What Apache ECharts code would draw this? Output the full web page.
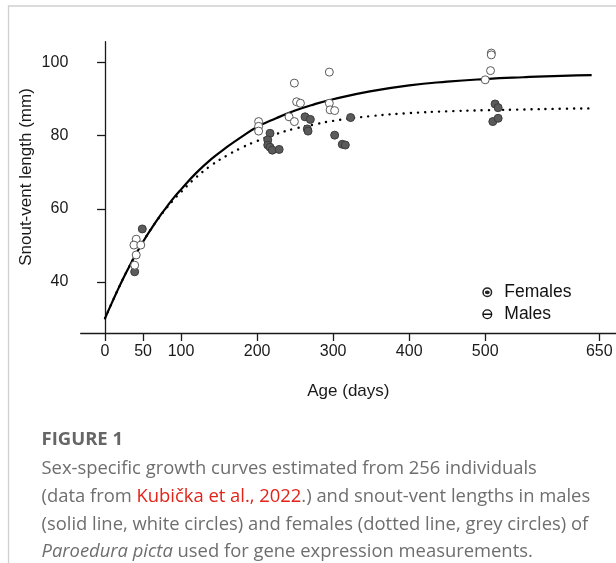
<!DOCTYPE html>
<html>
<head>
<meta charset="utf-8">
<script src="https://cdn.jsdelivr.net/npm/echarts@6/dist/echarts.min.js"></script>
<style>
html,body{margin:0;padding:0;background:#fff;}
#chart{width:616px;height:563px;}
</style>
</head>
<body>
<div id="chart"></div>
<script>
// ---- data ----
var xTicks = [0, 50, 100, 200, 300, 400, 500, 650];
var yTicks = [40, 60, 80, 100];

// growth curves (estimated from the drawn curves)
var curveDays   = [0, 10, 20, 30, 40, 50, 60, 70, 80, 90, 100, 120, 140, 160, 180, 200, 225, 250, 275, 300, 350, 400, 450, 500, 550, 600, 640];
var maleCurve   = [30.1, 34.8, 39.3, 43.5, 47.4, 51.0, 54.3, 57.4, 60.2, 62.9, 65.3, 69.8, 73.6, 76.8, 79.7, 82.3, 84.7, 86.8, 88.5, 89.9, 92.1, 93.7, 94.7, 95.4, 95.9, 96.3, 96.5];
var femaleCurve = [30.1, 34.8, 39.3, 43.5, 47.4, 51.0, 54.3, 57.3, 60.0, 62.4, 64.6, 68.6, 71.9, 74.5, 76.7, 78.5, 80.4, 81.9, 83.0, 84.0, 85.3, 86.1, 86.6, 86.9, 87.1, 87.3, 87.4];

// individuals (open = males, grey = females)
var maleDays = [41, 38, 47, 41, 39, 202, 202, 202, 242, 249, 249, 252, 257, 295, 295, 296, 302, 508, 508, 507, 500];
var maleSVL  = [51.7, 50.1, 50.1, 47.4, 44.6, 83.8, 82.5, 81.2, 85.1, 83.8, 94.3, 89.2, 88.8, 97.3, 88.8, 87.0, 86.8, 102.5, 102.0, 97.7, 95.2];
var femaleDays = [49, 39, 217, 214, 214, 217, 220, 229, 263, 270, 266, 267, 302, 312, 316, 323, 513, 517, 510, 517];
var femaleSVL  = [54.5, 42.8, 80.6, 78.8, 77.4, 76.8, 76.0, 76.2, 85.1, 84.4, 81.8, 81.2, 80.1, 77.6, 77.4, 84.9, 88.6, 87.6, 83.8, 84.7];

function zip(a, b) { return a.map(function (v, i) { return [v, b[i]]; }); }

var AX = '#1a1a1a';
var SANS = '"Liberation Sans", Arial, sans-serif';
var CAP = '"Open Sans", "Noto Sans", sans-serif';
var CAPC = '#6e6e6e';
var CAPFS = 18.4;

var maleIcon = 'path://M0,-10 A10,10 0 1,1 0,10 A10,10 0 1,1 0,-10 Z M0,-7.4 A7.4,7.4 0 1,0 0,7.4 A7.4,7.4 0 1,0 0,-7.4 Z M-10,-1.6 L10,-1.6 L10,1.6 L-10,1.6 Z';
var femaleIcon = 'path://M0,-10 A10,10 0 1,1 0,10 A10,10 0 1,1 0,-10 Z M0,-7 A7,7 0 1,0 0,7 A7,7 0 1,0 0,-7 Z M-5,0 A5,3.8 0 1,1 5,0 A5,3.8 0 1,1 -5,0 Z';

var chart = echarts.init(document.getElementById('chart'), null, {renderer: 'canvas'});
chart.setOption({
  animation: false,
  backgroundColor: '#fff',
  grid: {left: 80.7, right: 0, top: 41.7, bottom: 230, containLabel: false},
  xAxis: {
    type: 'value', min: -32, max: 672,
    name: 'Age (days)', nameLocation: 'middle', nameGap: 50,
    nameTextStyle: {fontFamily: SANS, fontSize: 17, color: AX},
    axisLine: {show: true, lineStyle: {color: AX, width: 1.3}},
    axisTick: {show: true, length: 8, customValues: xTicks, lineStyle: {color: AX, width: 1.3}},
    axisLabel: {customValues: xTicks, margin: 11, fontFamily: SANS, fontSize: 16, color: AX},
    splitLine: {show: false}
  },
  yAxis: {
    type: 'value', min: 26.1, max: 105.6,
    axisLine: {show: true, lineStyle: {color: AX, width: 1.3}},
    axisTick: {show: true, length: 8, customValues: yTicks, lineStyle: {color: AX, width: 1.3}},
    axisLabel: {customValues: yTicks, margin: 12.4, fontFamily: SANS, fontSize: 16, color: AX},
    splitLine: {show: false}
  },
  legend: {
    orient: 'vertical', left: 477.3, top: 278.3,
    itemWidth: 10, itemHeight: 10, itemGap: 4,
    textStyle: {fontFamily: SANS, fontSize: 17.5, color: '#111', lineHeight: 18, padding: [0, 0, 0, 7]},
    data: [
      {name: 'Females', icon: femaleIcon, itemStyle: {color: '#222', borderWidth: 0}},
      {name: 'Males', icon: maleIcon, itemStyle: {color: '#111', borderWidth: 0}}
    ]
  },
  series: [
    {
      name: 'Male curve', type: 'line', data: zip(curveDays, maleCurve),
      showSymbol: false, smooth: true, z: 2,
      lineStyle: {color: '#000', width: 2.2}
    },
    {
      name: 'Female curve', type: 'line', data: zip(curveDays, femaleCurve),
      showSymbol: false, smooth: true, z: 2,
      lineStyle: {color: '#000', width: 2.4, type: [0.1, 7], cap: 'round'}
    },
    {
      name: 'Females', type: 'scatter', data: zip(femaleDays, femaleSVL),
      symbol: 'circle', symbolSize: 8, z: 3,
      itemStyle: {color: '#5b5b5b', borderColor: '#3c3c3c', borderWidth: 1, opacity: 1}
    },
    {
      name: 'Males', type: 'scatter', data: zip(maleDays, maleSVL),
      symbol: 'circle', symbolSize: 8, z: 4,
      itemStyle: {color: '#ffffff', borderColor: '#5a5a5a', borderWidth: 1, opacity: 1}
    }
  ],
  graphic: [
    {type: 'polyline', silent: true, z: 0,
      shape: {points: [[8.5, 563], [8.5, 6], [616, 6]]},
      style: {stroke: '#cfcfcf', lineWidth: 1.3, fill: null}},
    {type: 'text', x: 26.5, y: 177, rotation: Math.PI / 2,
      style: {text: 'Snout-vent length (mm)', fontFamily: SANS, fontSize: 17, fill: AX, align: 'center', verticalAlign: 'middle'}},
    {type: 'text', x: 41.5, y: 439.5,
      style: {text: 'FIGURE 1', fontFamily: CAP, fontSize: 18.5, fontWeight: 'bold', fill: '#666', align: 'left', verticalAlign: 'middle'}},
    {type: 'text', x: 41.5, y: 469,
      style: {text: 'Sex-specific growth curves estimated from 256 individuals', fontFamily: CAP, fontSize: CAPFS, fill: CAPC, align: 'left', verticalAlign: 'middle'}},
    {type: 'text', x: 41.5, y: 496.8,
      style: {text: '(data from {r|Kubička et al., 2022}.) and snout-vent lengths in males', fontFamily: CAP, fontSize: CAPFS, fill: CAPC, align: 'left', verticalAlign: 'middle',
        rich: {r: {fill: '#e2231a', fontFamily: CAP, fontSize: CAPFS}}}},
    {type: 'text', x: 41.5, y: 524.5,
      style: {text: '(solid line, white circles) and females (dotted line, grey circles) of', fontFamily: CAP, fontSize: CAPFS, fill: CAPC, align: 'left', verticalAlign: 'middle'}},
    {type: 'text', x: 41.5, y: 552,
      style: {text: '{i|Paroedura picta} used for gene expression measurements.', fontFamily: CAP, fontSize: CAPFS, fill: CAPC, align: 'left', verticalAlign: 'middle',
        rich: {i: {fontStyle: 'italic', fill: CAPC, fontFamily: CAP, fontSize: CAPFS}}}}
  ]
});
</script>
</body>
</html>
